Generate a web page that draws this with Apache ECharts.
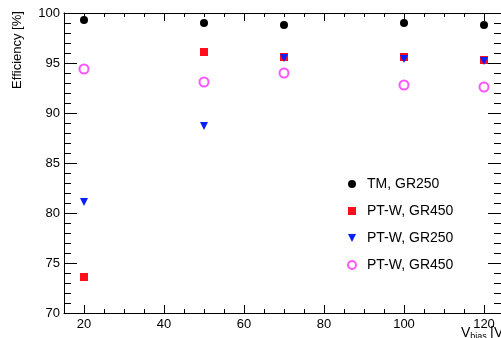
<!DOCTYPE html>
<html>
<head>
<meta charset="utf-8">
<script src="https://cdn.jsdelivr.net/npm/echarts@6/dist/echarts.min.js"></script>
<style>
  html, body { margin: 0; padding: 0; background: #fff; }
  #chart { width: 501px; height: 338px; }
</style>
</head>
<body>
<div id="chart"></div>
<script>
var vbias = [20, 50, 70, 100, 120];
var tmGR250 = [99.3, 99.0, 98.8, 99.0, 98.8];
var ptwGR450 = [73.6, 96.1, 95.6, 95.6, 95.3];
var ptwGR250 = [81.1, 88.7, 95.5, 95.4, 95.2];
var ptwGR450b = [94.4, 93.1, 94.0, 92.8, 92.6];
var seriesNames = ["TM, GR250", "PT-W, GR450", "PT-W, GR250", "PT-W, GR450 "];

function pairs(ys) {
  return vbias.map(function (x, i) { return [x, ys[i]]; });
}

var chart = echarts.init(document.getElementById("chart"));
var font = "Liberation Sans, Arial, sans-serif";

// frame axes: bottom/left carry labels, top/right only mirror the ticks
function xAx(pos, show) {
  return {
    type: "value", position: pos, min: 15, max: 124.25,
    axisLine: { show: true, onZero: false, lineStyle: { color: "#000", width: 1 } },
    axisTick: { show: true, inside: true, length: 8, lineStyle: { color: "#000", width: 1 } },
    minorTick: { show: true, splitNumber: 4, length: 4, lineStyle: { color: "#000", width: 1 } },
    axisLabel: { show: show, showMinLabel: false, showMaxLabel: false, margin: 5,
      color: "#000", fontSize: 13, fontFamily: font },
    splitLine: { show: false }, minorSplitLine: { show: false }
  };
}
function yAx(pos, show) {
  return {
    type: "value", position: pos, min: 70, max: 100, interval: 5,
    axisLine: { show: true, onZero: false, lineStyle: { color: "#000", width: 1 } },
    axisTick: { show: true, inside: true, length: 13, lineStyle: { color: "#000", width: 1 } },
    minorTick: { show: true, splitNumber: 5, length: 7, lineStyle: { color: "#000", width: 1 } },
    axisLabel: { show: show, margin: 4, color: "#000", fontSize: 13, fontFamily: font },
    splitLine: { show: false }, minorSplitLine: { show: false }
  };
}

chart.setOption({
  animation: false,
  backgroundColor: "#fff",
  grid: { left: 64, top: 13, right: 0, bottom: 25 },
  xAxis: [xAx("bottom", true), xAx("top", false)],
  yAxis: [yAx("left", true), yAx("right", false)],
  legend: {
    orient: "vertical", left: 342, top: 172,
    itemWidth: 8, itemHeight: 8, itemGap: 13,
    textStyle: { color: "#000", fontSize: 14, fontFamily: font, lineHeight: 14, padding: [0, 0, 0, 6] },
    data: [
      { name: seriesNames[0] },
      { name: seriesNames[1] },
      { name: seriesNames[2], icon: "path://M0,0 L10,0 L5,10 Z" },
      { name: seriesNames[3] }
    ]
  },
  graphic: [
    { type: "text", x: 17, y: 50, rotation: Math.PI / 2,
      style: { text: "Efficiency [%]", fill: "#000", font: "13px " + font,
        textAlign: "center", textVerticalAlign: "middle" } },
    { type: "text", x: 461, y: 326,
      style: { text: "{a|V}{b|bias} {a|[V]}", fill: "#000",
        rich: { a: { fontSize: 14, lineHeight: 14, fontFamily: font, fill: "#000", verticalAlign: "top" },
                b: { fontSize: 9, lineHeight: 9, fontFamily: font, fill: "#000", verticalAlign: "top",
                     padding: [6, 0, 0, 0] } } } }
  ],
  series: [
    { name: seriesNames[0], type: "scatter", symbol: "circle", symbolSize: 8,
      itemStyle: { color: "#000", opacity: 1 }, data: pairs(tmGR250) },
    { name: seriesNames[1], type: "scatter", symbol: "rect", symbolSize: 8,
      itemStyle: { color: "#ff0d1a", opacity: 1 }, data: pairs(ptwGR450) },
    { name: seriesNames[2], type: "scatter", symbol: "triangle", symbolSize: 8, symbolRotate: 180,
      itemStyle: { color: "#0a1eff", opacity: 1 }, data: pairs(ptwGR250) },
    { name: seriesNames[3], type: "scatter", symbol: "emptyCircle", symbolSize: 9,
      itemStyle: { color: "#ff55ff", borderColor: "#ff55ff", borderWidth: 1, opacity: 1 },
      data: pairs(ptwGR450b) }
  ]
});
</script>
</body>
</html>
